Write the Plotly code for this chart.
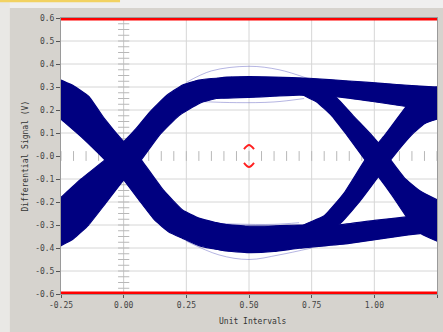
import numpy as np
import plotly.graph_objects as go

# ---- axis ticks ----
x_ticks = [-0.25, 0.0, 0.25, 0.5, 0.75, 1.0, 1.25]
x_tick_text = ["-0.25", "0.00", "0.25", "0.50", "0.75", "1.00", "1.25"]
y_ticks = [-0.6, -0.5, -0.4, -0.3, -0.2, -0.1, 0.0, 0.1, 0.2, 0.3, 0.4, 0.5, 0.6]
y_tick_text = ["-0.6", "-0.5", "-0.4", "-0.3", "-0.2", "-0.1", "-0.0",
               "0.1", "0.2", "0.3", "0.4", "0.5", "0.6"]

# ---- mask limits and eye cursor ----
mask_limits = [0.6, -0.6]
cursor_x = [0.5, 0.5]
cursor_y = [0.048, -0.048]
cursor_dir = [1, -1]

# ---- eye diagram envelopes ----
# falling edge through crossing at UI 0
f0_top_x = [-0.27, -0.25, -0.20, -0.14, -0.075, 0.0, 0.07, 0.16, 0.235, 0.30, 0.37, 0.45]
f0_top_y = [0.34, 0.33, 0.305, 0.26, 0.16, 0.062, -0.017, -0.15, -0.235, -0.27, -0.29, -0.31]
f0_bot_x = [-0.27, -0.25, -0.17, -0.075, 0.0, 0.06, 0.123, 0.18, 0.235, 0.30, 0.37, 0.45]
f0_bot_y = [0.18, 0.16, 0.084, -0.017, -0.104, -0.19, -0.278, -0.33, -0.358, -0.39, -0.405, -0.41]
# rising edge through crossing at UI 0
r0_top_x = [-0.27, -0.25, -0.17, -0.075, 0.0, 0.05, 0.103, 0.17, 0.235, 0.30, 0.37, 0.45]
r0_top_y = [-0.20, -0.18, -0.10, -0.017, 0.062, 0.12, 0.19, 0.262, 0.309, 0.33, 0.338, 0.338]
r0_bot_x = [-0.27, -0.25, -0.20, -0.14, -0.075, 0.0, 0.07, 0.143, 0.22, 0.302, 0.37, 0.45]
r0_bot_y = [-0.40, -0.39, -0.36, -0.30, -0.21, -0.104, -0.017, 0.091, 0.175, 0.229, 0.25, 0.262]
# high level rail
hi_top_x = [0.33, 0.40, 0.50, 0.60, 0.74, 0.90, 1.03, 1.15, 1.25, 1.27]
hi_top_y = [0.32, 0.342, 0.345, 0.343, 0.338, 0.326, 0.316, 0.306, 0.30, 0.298]
hi_bot_x = [0.33, 0.40, 0.50, 0.60, 0.70, 0.844, 1.00, 1.135, 1.25, 1.27]
hi_bot_y = [0.26, 0.252, 0.255, 0.26, 0.265, 0.258, 0.236, 0.214, 0.20, 0.195]
# low level rail
lo_top_x = [0.33, 0.40, 0.50, 0.60, 0.70, 0.857, 1.00, 1.135, 1.25, 1.27]
lo_top_y = [-0.29, -0.297, -0.305, -0.304, -0.30, -0.30, -0.28, -0.264, -0.25, -0.245]
lo_bot_x = [0.33, 0.40, 0.50, 0.60, 0.70, 0.90, 1.135, 1.25, 1.27]
lo_bot_y = [-0.39, -0.412, -0.42, -0.415, -0.401, -0.38, -0.343, -0.33, -0.327]
# falling edge through crossing at UI 1
f1_top_x = [0.72, 0.844, 0.92, 0.99, 1.016, 1.065, 1.12, 1.18, 1.25, 1.27]
f1_top_y = [0.30, 0.258, 0.17, 0.09, 0.057, -0.017, -0.095, -0.15, -0.19, -0.20]
f1_bot_x = [0.70, 0.77, 0.83, 0.884, 0.963, 1.016, 1.07, 1.135, 1.19, 1.25, 1.27]
f1_bot_y = [0.275, 0.235, 0.175, 0.10, -0.017, -0.09, -0.17, -0.275, -0.34, -0.37, -0.38]
# rising edge through crossing at UI 1
r1_top_x = [0.70, 0.80, 0.88, 0.963, 1.016, 1.045, 1.135, 1.20, 1.25, 1.27]
r1_top_y = [-0.31, -0.26, -0.16, -0.017, 0.057, 0.095, 0.225, 0.285, 0.30, 0.31]
r1_bot_x = [0.72, 0.857, 0.94, 1.016, 1.065, 1.148, 1.20, 1.25, 1.27]
r1_bot_y = [-0.33, -0.30, -0.20, -0.09, -0.017, 0.091, 0.14, 0.16, 0.165]

# faint outlier traces
faint_a_x = [0.25, 0.35, 0.50, 0.62, 0.74]
faint_a_y = [0.32, 0.37, 0.39, 0.375, 0.335]
faint_b_x = [0.30, 0.45, 0.60, 0.72]
faint_b_y = [0.237, 0.232, 0.235, 0.25]
faint_c_x = [0.32, 0.45, 0.60, 0.70]
faint_c_y = [-0.29, -0.296, -0.297, -0.29]
faint_d_x = [0.25, 0.38, 0.50, 0.62, 0.75]
faint_d_y = [-0.37, -0.43, -0.45, -0.43, -0.40]

bands = [
    (f0_top_x, f0_top_y, f0_bot_x, f0_bot_y),
    (r0_top_x, r0_top_y, r0_bot_x, r0_bot_y),
    (hi_top_x, hi_top_y, hi_bot_x, hi_bot_y),
    (lo_top_x, lo_top_y, lo_bot_x, lo_bot_y),
    (f1_top_x, f1_top_y, f1_bot_x, f1_bot_y),
    (r1_top_x, r1_top_y, r1_bot_x, r1_bot_y),
]
faints = [(faint_a_x, faint_a_y), (faint_b_x, faint_b_y),
          (faint_c_x, faint_c_y), (faint_d_x, faint_d_y)]

NAVY = "#000080"
fig = go.Figure()

# graticule minor ticks (under the traces)
tick_x = np.arange(-0.25, 1.2501, 0.05)
fig.add_trace(go.Scatter(x=tick_x, y=np.zeros_like(tick_x), mode="markers",
                         marker=dict(symbol="line-ns", size=7,
                                     line=dict(color="#b8b8b8", width=1)),
                         hoverinfo="skip", showlegend=False))
tick_y = np.arange(-0.6, 0.6001, 0.025)
fig.add_trace(go.Scatter(x=np.zeros_like(tick_y), y=tick_y, mode="markers",
                         marker=dict(symbol="line-ew", size=8,
                                     line=dict(color="#b8b8b8", width=1)),
                         hoverinfo="skip", showlegend=False))

for fx, fy in faints:
    fig.add_trace(go.Scatter(x=fx, y=fy, mode="lines", line_shape="spline",
                             line=dict(color="rgba(90,90,190,0.45)", width=1),
                             hoverinfo="skip", showlegend=False))

for tx, ty, bx, by in bands:
    px = list(tx) + list(bx)[::-1] + [tx[0]]
    py = list(ty) + list(by)[::-1] + [ty[0]]
    fig.add_trace(go.Scatter(x=px, y=py, mode="lines", fill="toself",
                             fillcolor=NAVY, line_shape="spline",
                             line=dict(color=NAVY, width=1.2, smoothing=0.4),
                             hoverinfo="skip", showlegend=False))

# mask limit lines
for ly in mask_limits:
    fig.add_trace(go.Scatter(x=[x_ticks[0], x_ticks[-1]], y=[ly, ly], mode="lines",
                             line=dict(color="#ff0000", width=5),
                             cliponaxis=False, hoverinfo="skip", showlegend=False))

# eye cursor chevrons
for cx, cy, d in zip(cursor_x, cursor_y, cursor_dir):
    fig.add_trace(go.Scatter(x=[cx - 0.02, cx, cx + 0.02],
                             y=[cy - 0.018 * d, cy, cy - 0.018 * d],
                             mode="lines", line_shape="spline",
                             line=dict(color="#ff2020", width=2),
                             hoverinfo="skip", showlegend=False))

shapes = []
grid_col = "#d6d6d6"
for v in y_ticks:
    if abs(v) < 1e-9 or abs(abs(v) - 0.6) < 1e-9:
        continue
    shapes.append(dict(type="line", xref="x", yref="y", x0=-0.25, x1=1.25, y0=v, y1=v,
                       line=dict(color=grid_col, width=1), layer="below"))
for v in x_ticks[1:-1]:
    shapes.append(dict(type="line", xref="x", yref="y", x0=v, x1=v, y0=-0.6, y1=0.6,
                       line=dict(color=grid_col if v != 0 else "#c8c8c8", width=1), layer="below"))
# window chrome outside the plot
shapes.append(dict(type="rect", xref="paper", yref="paper", x0=-0.2, x1=1.05, y0=1.036, y1=1.08,
                   fillcolor="#efefef", line=dict(width=0), layer="above"))
shapes.append(dict(type="rect", xref="paper", yref="paper", x0=-0.2, x1=-0.136, y0=-0.2, y1=1.08,
                   fillcolor="#e9e8e5", line=dict(width=0), layer="above"))
shapes.append(dict(type="rect", xref="paper", yref="paper", x0=-0.2, x1=0.157, y0=1.057, y1=1.08,
                   fillcolor="#f2d262", line=dict(width=0), layer="above"))

font_mono = "DejaVu Sans Mono"
fig.update_layout(
    width=443, height=332,
    margin=dict(l=61, r=6, t=18, b=38),
    paper_bgcolor="#d6d3ce", plot_bgcolor="#ffffff",
    shapes=shapes,
    xaxis=dict(range=[-0.25, 1.25], tickvals=x_ticks, ticktext=x_tick_text,
               showgrid=False, zeroline=False, ticks="outside", ticklen=3,
               tickcolor="#555555", tickfont=dict(family=font_mono, size=8, color="#444444"),
               showline=True, linecolor="#9a9a9a", mirror=True),
    yaxis=dict(range=[-0.6, 0.6], tickvals=y_ticks, ticktext=y_tick_text,
               showgrid=False, zeroline=False, ticks="outside", ticklen=4,
               tickcolor="#555555", tickfont=dict(family=font_mono, size=8, color="#444444"),
               showline=True, linecolor="#9a9a9a", mirror=True),
    annotations=[
        dict(text="Unit Intervals", xref="paper", yref="paper", x=0.51, y=-0.1,
             showarrow=False, font=dict(family=font_mono, size=8, color="#333333"),
             xanchor="center", yanchor="middle"),
        dict(text="Differential Signal (V)", xref="paper", yref="paper", x=-0.097, y=0.5,
             showarrow=False, textangle=-90, font=dict(family=font_mono, size=8, color="#333333"),
             xanchor="center", yanchor="middle"),
    ],
)

fig.write_html("out.html", config={"displayModeBar": False},
               post_script="document.body.style.margin='0';document.body.style.padding='0';")
